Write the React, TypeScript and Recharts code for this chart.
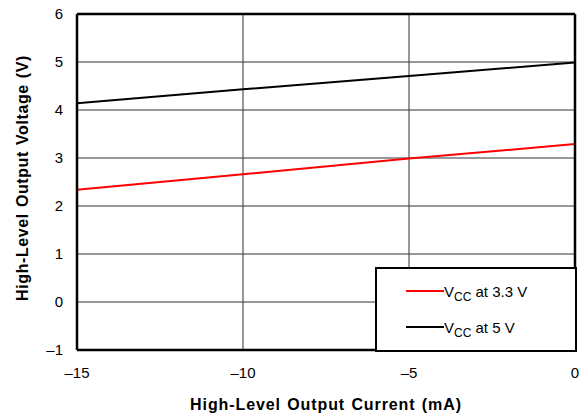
import React from 'react'
import {
  LineChart,
  Line,
  XAxis,
  YAxis,
  CartesianGrid,
  ReferenceLine,
} from 'recharts'

const currents = [-15, -10, -5, 0]
const vcc33 = [2.34, 2.66, 2.99, 3.29]
const vcc5 = [4.14, 4.43, 4.71, 4.99]
const xTicks = [-15, -10, -5, 0]
const yTicks = [-1, 0, 1, 2, 3, 4, 5, 6]

const data = currents.map((c, i) => ({ current: c, vcc33: vcc33[i], vcc5: vcc5[i] }))

const FONT = '"Liberation Sans", Arial, sans-serif'

const fmt = (v: number) => (v < 0 ? `\u2013${Math.abs(v)}` : `${v}`)

function YTitle(props: any) {
  const { viewBox } = props
  const cy = viewBox.y + viewBox.height / 2 - 4
  return (
    <text
      x={22}
      y={cy}
      transform={`rotate(-90, 22, ${cy})`}
      textAnchor="middle"
      dominantBaseline="central"
      fontFamily={FONT}
      fontWeight="bold"
      fontSize={16}
      letterSpacing={0.6}
      wordSpacing={1}
      fill="#000"
    >
      High-Level Output Voltage (V)
    </text>
  )
}

function XTitle(props: any) {
  const { viewBox } = props
  const cx = viewBox.x + viewBox.width / 2
  return (
    <text
      x={cx}
      y={404}
      textAnchor="middle"
      dominantBaseline="central"
      fontFamily={FONT}
      fontWeight="bold"
      fontSize={16}
      letterSpacing={0.9}
      wordSpacing={1}
      fill="#000"
    >
      High-Level Output Current (mA)
    </text>
  )
}

const legendItems = [
  { color: '#ff0000', label: ' at 3.3 V' },
  { color: '#000000', label: ' at 5 V' },
]

function LegendBox() {
  return (
    <div
      style={{
        position: 'absolute',
        left: 375,
        top: 267,
        boxSizing: 'border-box',
        width: 202,
        height: 85,
        border: '2px solid #000',
        background: '#fff',
        fontFamily: FONT,
        fontSize: 15,
        color: '#000',
        paddingTop: 4,
      }}
    >
      {legendItems.map((it) => (
        <div key={it.label} style={{ display: 'flex', alignItems: 'center', height: 36, paddingLeft: 29 }}>
          <span style={{ display: 'inline-block', width: 38, height: 2, background: it.color }} />
          <span style={{ lineHeight: '15px' }}>
            V<sub style={{ fontSize: 12, verticalAlign: '-4px', lineHeight: 0 }}>CC</sub>
            {it.label}
          </span>
        </div>
      ))}
    </div>
  )
}

export default function App() {
  return (
    <div style={{ position: 'absolute', left: 0, top: 0, width: 587, height: 415, background: '#fff' }}>
      <LineChart
        width={587}
        height={415}
        data={data}
        margin={{ top: 14, right: 12, left: 0, bottom: 0 }}
      >
        <CartesianGrid stroke="#333" strokeWidth={1} />
        <XAxis
          dataKey="current"
          type="number"
          domain={[-15, 0]}
          ticks={xTicks}
          tickFormatter={fmt}
          axisLine={false}
          tickLine={false}
          tickMargin={11}
          tick={{ fill: '#000', fontSize: 15, fontFamily: FONT }}
          label={<XTitle />}
          height={65}
        />
        <YAxis
          type="number"
          domain={[-1, 6]}
          ticks={yTicks}
          tickFormatter={fmt}
          axisLine={false}
          tickLine={false}
          tickMargin={8}
          width={77}
          tick={{ fill: '#000', fontSize: 15, fontFamily: FONT }}
          label={<YTitle />}
        />
        <Line
          dataKey="vcc33"
          stroke="#ff0000"
          strokeWidth={2}
          dot={false}
          isAnimationActive={false}
        />
        <Line
          dataKey="vcc5"
          stroke="#000000"
          strokeWidth={2}
          dot={false}
          isAnimationActive={false}
        />
        <ReferenceLine x={-15} stroke="#000" strokeWidth={2.5} ifOverflow="visible" />
        <ReferenceLine x={0} stroke="#000" strokeWidth={2.5} ifOverflow="visible" />
        <ReferenceLine y={-1} stroke="#000" strokeWidth={2.5} ifOverflow="visible" />
        <ReferenceLine y={6} stroke="#000" strokeWidth={2.5} ifOverflow="visible" />
      </LineChart>
      <LegendBox />
    </div>
  )
}
